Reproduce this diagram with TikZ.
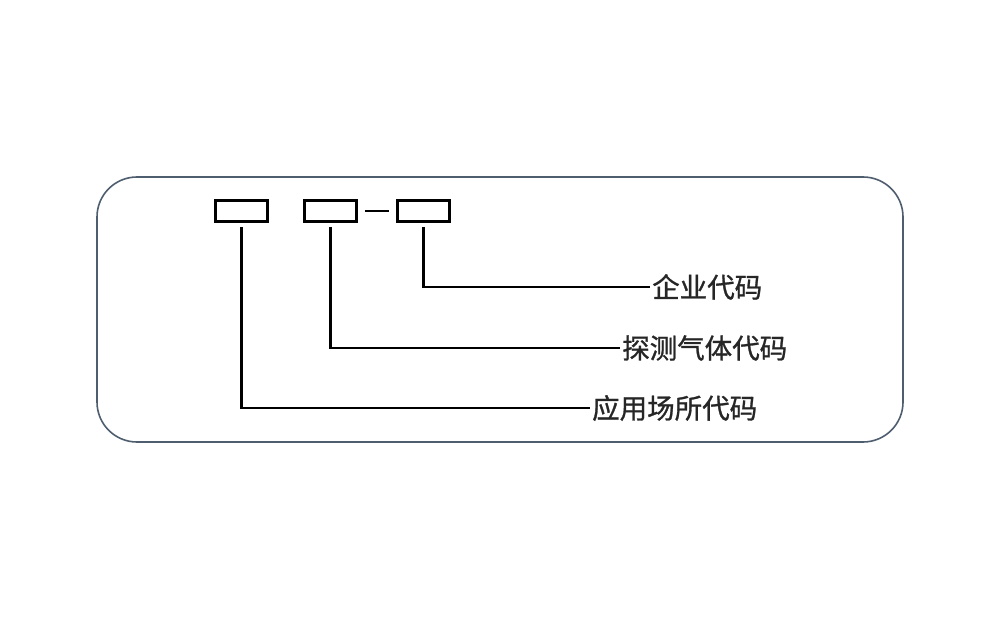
\documentclass[tikz,border=0pt]{standalone}
\usepackage{fontspec}
\newfontfamily\cjk[FakeBold=1.0]{Noto Sans CJK SC}
\definecolor{frame}{HTML}{4E5E6E}
\definecolor{txt}{HTML}{262626}
\begin{document}
\begin{tikzpicture}[x=1pt,y=-1pt,
  codebox/.style={draw=black,line width=2.8pt,minimum width=52pt,minimum height=21pt,inner sep=0pt},
  lead/.style={draw=black,line width=2.6pt},
  lbl/.style={anchor=west,inner sep=2pt,text=txt,font=\cjk\fontsize{27.5}{30}\selectfont}]
\useasboundingbox (0,0) rectangle (1000,620);
\fill[white] (0,0) rectangle (1000,620);
\draw[frame,line width=1.6pt,rounded corners=40pt] (97,177) rectangle (903,442);
\node[codebox] (b1) at (241.5,211) {};
\node[codebox] (b2) at (330.5,211) {};
\node[codebox] (b3) at (423.5,211) {};
\draw[lead] ([xshift=7pt]b2.east) -- ([xshift=-7pt]b3.west);
\coordinate (e1) at (650,287);
\coordinate (e2) at (620,348);
\coordinate (e3) at (590,408);
\node[lbl] (t1) at (e1) {企业代码};
\node[lbl] (t2) at (e2) {探测气体代码};
\node[lbl] (t3) at (e3) {应用场所代码};
\draw[lead] ([yshift=-4pt]b3.south) |- (t1.west);
\draw[lead] ([yshift=-4pt]b2.south) |- (t2.west);
\draw[lead] ([yshift=-4pt]b1.south) |- (t3.west);
\end{tikzpicture}
\end{document}
